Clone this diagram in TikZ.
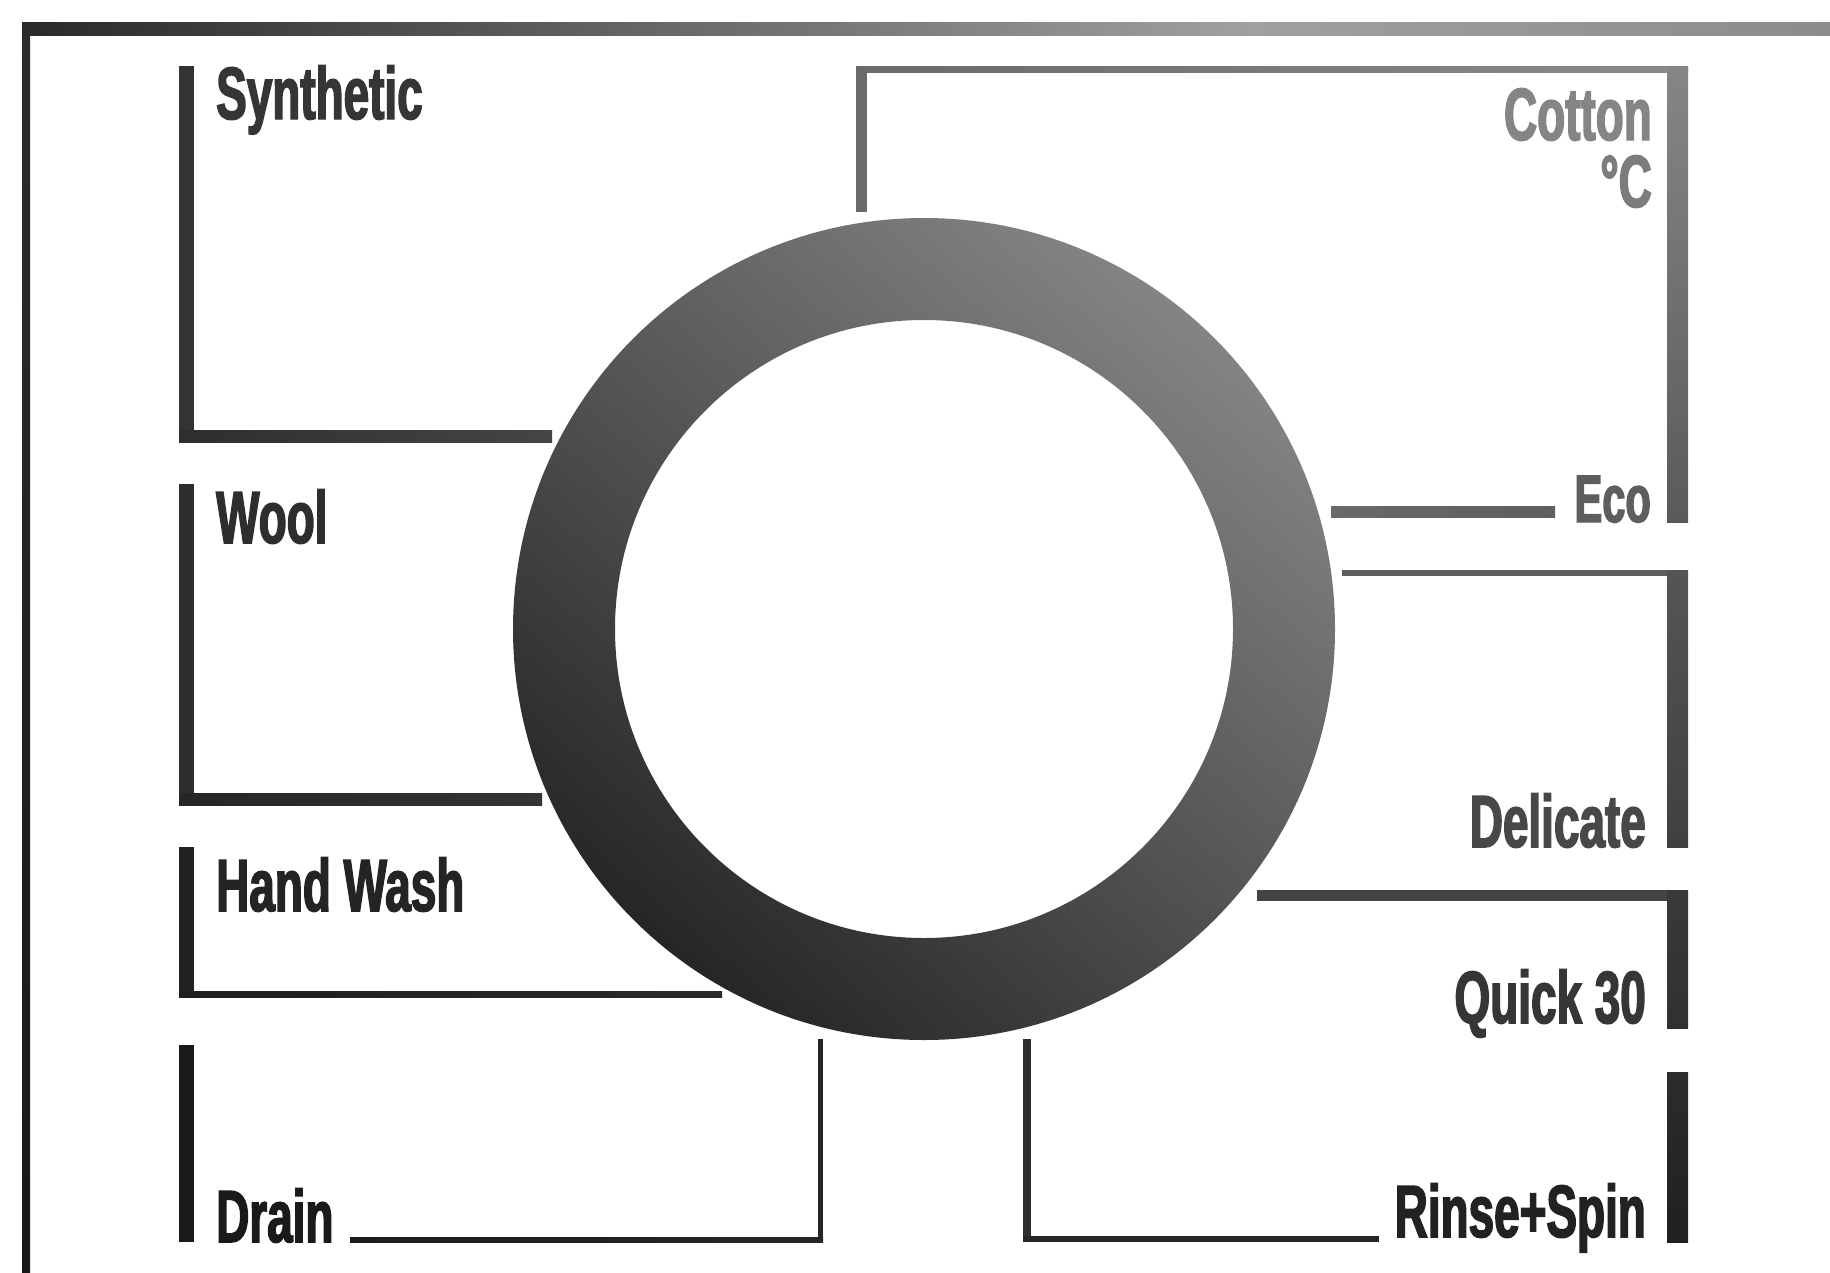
\documentclass[tikz,border=0pt]{standalone}
\usepackage{fontspec}
\newfontfamily\labfont{Liberation Sans}[FakeStretch=0.62,FakeBold=2]
\definecolor{frA}{HTML}{2C2C2C}
\definecolor{frB}{HTML}{181818}
\definecolor{topA}{HTML}{2A2A2A}
\definecolor{topB}{HTML}{A0A0A0}
\definecolor{topC}{HTML}{8C8C8C}
\definecolor{synA}{HTML}{333333}
\definecolor{synB}{HTML}{2E2E2E}
\definecolor{synC}{HTML}{454545}
\definecolor{woolA}{HTML}{2E2E2E}
\definecolor{woolB}{HTML}{262626}
\definecolor{woolC}{HTML}{343434}
\definecolor{handA}{HTML}{222222}
\definecolor{handB}{HTML}{1E1E1E}
\definecolor{handC}{HTML}{2A2A2A}
\definecolor{drnA}{HTML}{1A1A1A}
\definecolor{drnB}{HTML}{1C1C1C}
\definecolor{drnC}{HTML}{262626}
\definecolor{rinA}{HTML}{2E2E2E}
\definecolor{rinB}{HTML}{262626}
\definecolor{rinC}{HTML}{2C2C2C}
\definecolor{rinD}{HTML}{202020}
\definecolor{qckA}{HTML}{444444}
\definecolor{qckB}{HTML}{3A3A3A}
\definecolor{qckC}{HTML}{303030}
\definecolor{delA}{HTML}{5E5E5E}
\definecolor{delB}{HTML}{555555}
\definecolor{delC}{HTML}{404040}
\definecolor{ecoA}{HTML}{6A6A6A}
\definecolor{ecoB}{HTML}{5E5E5E}
\definecolor{cotA}{HTML}{6A6A6A}
\definecolor{cotB}{HTML}{8A8A8A}
\definecolor{cotC}{HTML}{868686}
\definecolor{cotD}{HTML}{5A5A5A}
\definecolor{ringA}{HTML}{848484}
\definecolor{ringB}{HTML}{262626}
\definecolor{tSyn}{HTML}{353535}
\definecolor{tWool}{HTML}{2E2E2E}
\definecolor{tHand}{HTML}{242424}
\definecolor{tDrain}{HTML}{1A1A1A}
\definecolor{tRinse}{HTML}{222222}
\definecolor{tQuick}{HTML}{363636}
\definecolor{tDel}{HTML}{484848}
\definecolor{tEco}{HTML}{5E5E5E}
\definecolor{tCot}{HTML}{858585}
\definecolor{tDeg}{HTML}{7C7C7C}
\begin{document}
\begin{tikzpicture}[x=1pt,y=1pt,
  lab/.style={inner sep=0pt, font=\labfont\bfseries\fontsize{74}{80}\selectfont},
  labW/.style={lab, anchor=base west},
  labE/.style={lab, anchor=base east}]
\useasboundingbox[fill=white] (0,0) rectangle (1830,-1272);

% outer frame
\shade[top color=frA, bottom color=frB] (22,-22) rectangle (30,-1272);
\shade[left color=topA, right color=topB] (22,-22) rectangle (1250,-35);
\shade[left color=topB, right color=topC] (1250,-22) rectangle (1830,-35);

% dial ring
\shade[even odd rule, top color=ringA, bottom color=ringB, shading angle=-40]
  (924,-629) circle (411) (924,-629) circle (309);

% Synthetic
\fill[synA] (179,-66) rectangle (194,-442);
\shade[left color=synB, right color=synC] (179,-430) rectangle (552,-442);
\node[labW, text=tSyn] (synth) at (216,-119) {Synthetic};

% Wool
\fill[woolA] (179,-484) rectangle (194,-805);
\shade[left color=woolB, right color=woolC] (179,-793) rectangle (542,-805);
\node[labW, text=tWool] (wool) at (216,-543) {Wool};

% Hand Wash
\fill[handA] (179,-847) rectangle (194,-997);
\shade[left color=handB, right color=handC] (179,-991) rectangle (722,-997);
\node[labW, text=tHand] (hand) at (216,-911) {Hand Wash};

% Drain
\fill[drnA] (179,-1045) rectangle (194,-1242);
\shade[left color=drnB, right color=drnC] (350,-1237) rectangle (823,-1242);
\fill[drnC] (818,-1039) rectangle (823,-1242);
\node[labW, text=tDrain] (drain) at (216,-1242) {Drain};

% Rinse+Spin
\fill[rinA] (1023,-1039) rectangle (1031,-1242);
\fill[rinB] (1023,-1236) rectangle (1379,-1242);
\shade[top color=rinC, bottom color=rinD] (1667,-1072) rectangle (1688,-1242);
\node[labE, text=tRinse] (rinse) at (1646,-1237) {Rinse+Spin};

% Quick 30
\fill[qckA] (1257,-890) rectangle (1688,-901);
\shade[top color=qckB, bottom color=qckC] (1667,-890) rectangle (1688,-1028);
\node[labE, text=tQuick] (quick) at (1646,-1023) {Quick 30};

% Delicate
\fill[delA] (1342,-570) rectangle (1688,-576);
\shade[top color=delB, bottom color=delC] (1667,-570) rectangle (1688,-847);
\node[labE, text=tDel] (delic) at (1646,-847) {Delicate};

% Eco
\shade[left color=ecoA, right color=ecoB] (1331,-506) rectangle (1555,-517);
\node[lab, anchor=base east, text=tEco, font=\labfont\bfseries\fontsize{67}{72}\selectfont] (eco) at (1651,-522) {Eco};

% Cotton
\shade[left color=cotA, right color=cotB] (856,-66) rectangle (1688,-72);
\fill[cotA] (856,-66) rectangle (867,-212);
\shade[top color=cotC, bottom color=cotD] (1667,-66) rectangle (1688,-522);
\node[labE, text=tCot] (cotton) at (1652,-140) {Cotton};
\node[labE, text=tDeg] (degc) at (1652,-207) {°C};
\end{tikzpicture}
\end{document}
